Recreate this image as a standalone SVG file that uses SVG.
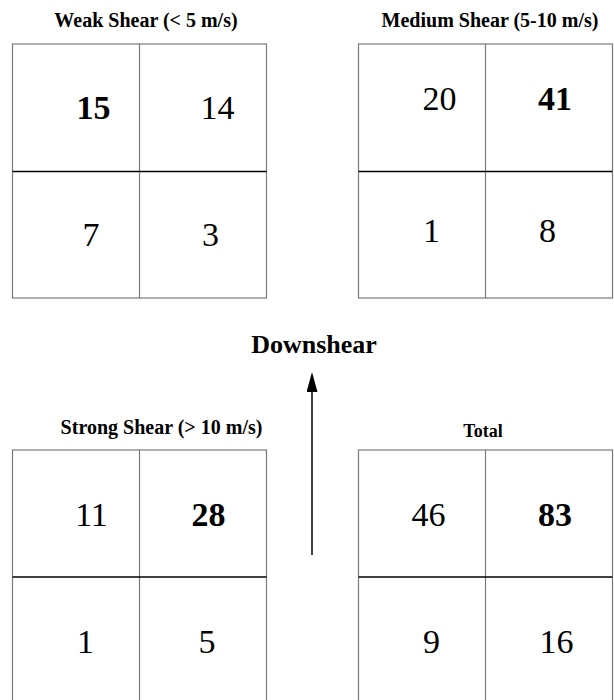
<svg xmlns="http://www.w3.org/2000/svg" width="614" height="700" viewBox="0 0 614 700">
  <defs>
    <style>
      .box { fill: #ffffff; stroke: #7a7a7a; stroke-width: 1.2; }
      .vdiv { stroke: #7a7a7a; stroke-width: 1.2; }
      .hdiv { stroke: #000000; stroke-width: 1.3; }
      .title { font-family: "Liberation Serif", "Times New Roman", serif; font-weight: bold; font-size: 20px; fill: #000; text-anchor: middle; }
      .num { font-family: "Liberation Serif", "Times New Roman", serif; font-size: 34px; fill: #000; text-anchor: middle; }
      .bold { font-weight: bold; }
      .label { font-family: "Liberation Serif", "Times New Roman", serif; font-weight: bold; font-size: 26px; fill: #000; text-anchor: middle; }
    </style>
    <marker id="arrowhead" markerWidth="20" markerHeight="11" refX="0" refY="5.5" orient="auto" markerUnits="userSpaceOnUse" viewBox="0 0 20 11">
      <polygon points="0,0 20,5.5 0,11" fill="#000"/>
    </marker>
  </defs>
  <rect width="614" height="700" fill="#ffffff"/>

  <g id="weak-shear">
    <text class="title" x="146" y="27">Weak Shear (&lt; 5 m/s)</text>
    <rect class="box" x="12.5" y="44" width="254" height="254"/>
    <line class="vdiv" x1="139.5" y1="44" x2="139.5" y2="298"/>
    <line class="hdiv" x1="12.5" y1="171.5" x2="266.5" y2="171.5"/>
    <text class="num bold" x="93.5" y="119">15</text>
    <text class="num" x="217.5" y="119">14</text>
    <text class="num" x="91" y="246">7</text>
    <text class="num" x="210.5" y="246">3</text>
  </g>

  <g id="medium-shear">
    <text class="title" x="490" y="27">Medium Shear (5-10 m/s)</text>
    <rect class="box" x="358.5" y="44" width="254" height="254"/>
    <line class="vdiv" x1="485.5" y1="44" x2="485.5" y2="298"/>
    <line class="hdiv" x1="358.5" y1="171.5" x2="612.5" y2="171.5"/>
    <text class="num" x="439.5" y="109.5">20</text>
    <text class="num bold" x="555" y="109.5">41</text>
    <text class="num" x="431.5" y="241.5">1</text>
    <text class="num" x="547.5" y="241.5">8</text>
  </g>

  <g id="strong-shear">
    <text class="title" x="161.5" y="434">Strong Shear (&gt; 10 m/s)</text>
    <rect class="box" x="12.5" y="450" width="254" height="254"/>
    <line class="vdiv" x1="139.5" y1="450" x2="139.5" y2="704"/>
    <line class="hdiv" x1="12.5" y1="577" x2="266.5" y2="577"/>
    <text class="num" x="91.5" y="526">11</text>
    <text class="num bold" x="208.5" y="526">28</text>
    <text class="num" x="85.5" y="652.5">1</text>
    <text class="num" x="207" y="652.5">5</text>
  </g>

  <g id="total">
    <text class="title" x="483" y="437" style="font-size:18px">Total</text>
    <rect class="box" x="358.5" y="450" width="254" height="254"/>
    <line class="vdiv" x1="485.5" y1="450" x2="485.5" y2="704"/>
    <line class="hdiv" x1="358.5" y1="577" x2="612.5" y2="577"/>
    <text class="num" x="428.5" y="526">46</text>
    <text class="num bold" x="555" y="526">83</text>
    <text class="num" x="431.5" y="653">9</text>
    <text class="num" x="556.5" y="653">16</text>
  </g>

  <g id="downshear-label">
    <text class="label" x="314" y="353">Downshear</text>
  </g>

  <g id="connectors">
    <line x1="312" y1="555" x2="312" y2="392" stroke="#000" stroke-width="1.5" marker-end="url(#arrowhead)"/>
  </g>
</svg>
